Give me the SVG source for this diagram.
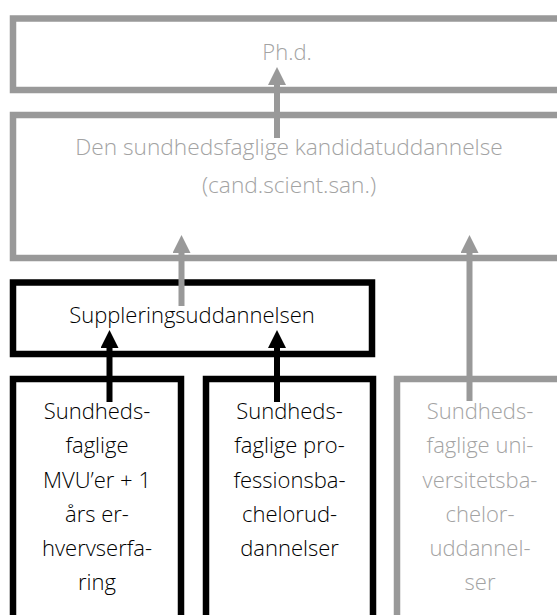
<svg xmlns="http://www.w3.org/2000/svg" width="557" height="615" viewBox="0 0 557 615">
<style>
.box{fill:#fff;stroke-width:6.5}
.g{stroke:#999}
.k{stroke:#000}
text{font-family:"Open Sans","Noto Sans","Liberation Sans",sans-serif;font-size:22px;font-weight:300;text-anchor:middle}
.tg{fill:#a3a3a3}
.tk{fill:#000}
.c{stroke-width:6;fill:none}
</style>
<defs>
<marker id="ag" markerUnits="userSpaceOnUse" markerWidth="18" markerHeight="18" refX="0" refY="9" orient="auto"><path d="M0,0 L18,9 L0,18 z" fill="#999"/></marker>
<marker id="ak" markerUnits="userSpaceOnUse" markerWidth="18" markerHeight="18" refX="0" refY="9" orient="auto"><path d="M0,0 L18,9 L0,18 z" fill="#000"/></marker>
</defs>
<rect width="557" height="615" fill="#fff"/>
<g id="phd">
<rect class="box g" x="13" y="18.5" width="548" height="71.5"/>
<text class="tg" x="287" y="60">Ph.d.</text>
</g>
<g id="kandidat">
<rect class="box g" x="13" y="115" width="548" height="143"/>
<text class="tg" x="289" y="155" style="font-size:22.7px">Den sundhedsfaglige kandidatuddannelse</text>
<text class="tg" x="289" y="193" style="font-size:22.7px">(cand.scient.san.)</text>
</g>
<g id="supplering">
<rect class="box k" x="13" y="282.5" width="359" height="71.5"/>
<text class="tk" x="192" y="323">Suppleringsuddannelsen</text>
</g>
<g id="mvu">
<rect class="box k" x="13" y="379" width="168" height="260"/>
<text class="tk" x="97" y="419">Sundheds-</text>
<text class="tk" x="97" y="453">faglige</text>
<text class="tk" x="97" y="487.5">MVU’er + 1</text>
<text class="tk" x="97" y="522">års er-</text>
<text class="tk" x="97" y="556">hvervserfa-</text>
<text class="tk" x="97" y="590">ring</text>
</g>
<g id="profbachelor">
<rect class="box k" x="206" y="379" width="167" height="260"/>
<text class="tk" x="289.5" y="419">Sundheds-</text>
<text class="tk" x="289.5" y="453">faglige pro-</text>
<text class="tk" x="289.5" y="487.5">fessionsba-</text>
<text class="tk" x="289.5" y="522">chelorud-</text>
<text class="tk" x="289.5" y="556">dannelser</text>
</g>
<g id="unibachelor">
<rect class="box g" x="397" y="379" width="164" height="260"/>
<text class="tg" x="480" y="419">Sundheds-</text>
<text class="tg" x="480" y="453">faglige uni-</text>
<text class="tg" x="480" y="487.5">versitetsba-</text>
<text class="tg" x="480" y="522">chelor-</text>
<text class="tg" x="480" y="556">uddannel-</text>
<text class="tg" x="480" y="590">ser</text>
</g>
<g id="connectors">
<line class="c g" x1="277" y1="138" x2="277" y2="85" marker-end="url(#ag)"/>
<line class="c g" x1="181.5" y1="306" x2="181.5" y2="253" marker-end="url(#ag)"/>
<line class="c g" x1="469.5" y1="401" x2="469.5" y2="253" marker-end="url(#ag)"/>
<line class="c k" x1="109.5" y1="402" x2="109.5" y2="348" marker-end="url(#ak)"/>
<line class="c k" x1="277" y1="402" x2="277" y2="348" marker-end="url(#ak)"/>
</g>
</svg>
